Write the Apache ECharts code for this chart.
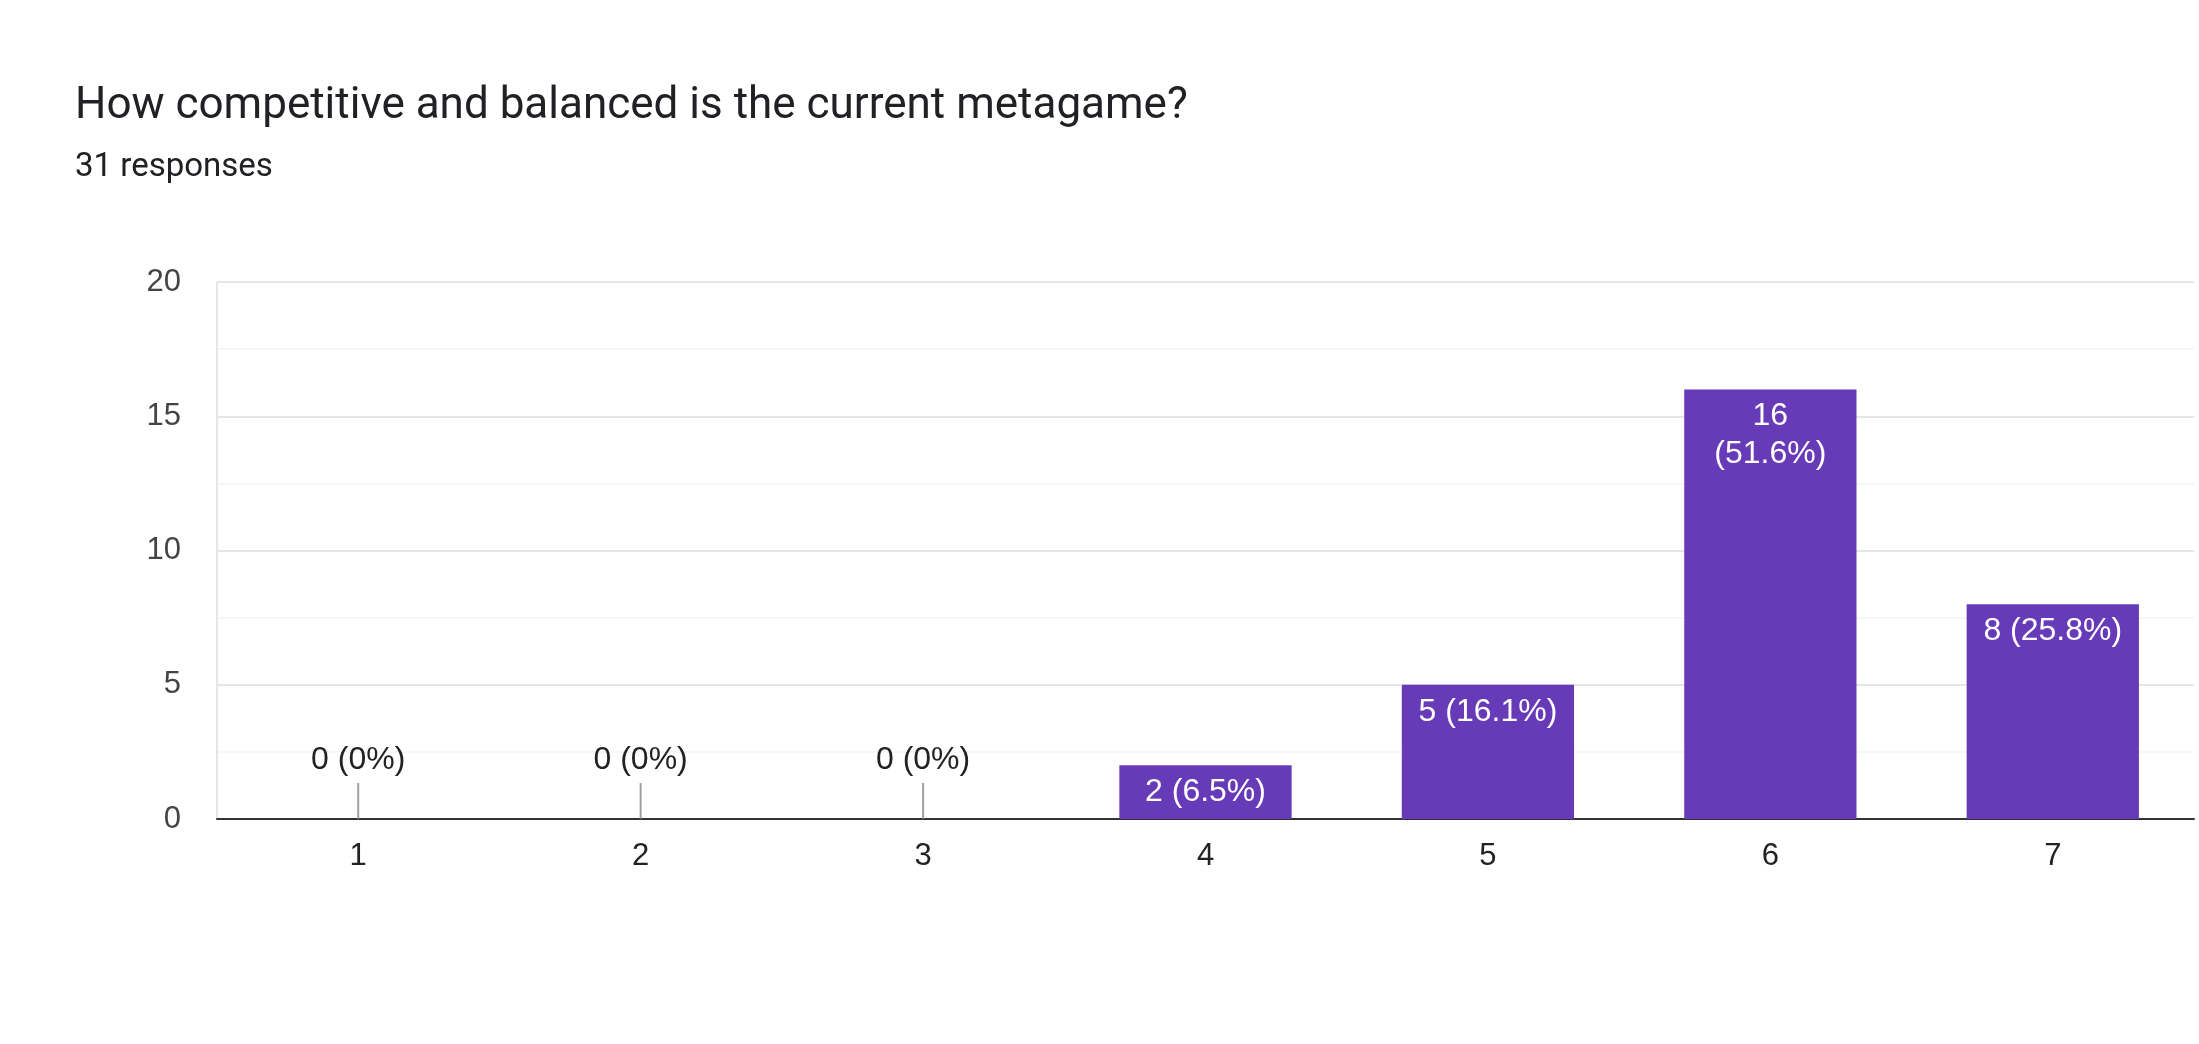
<!DOCTYPE html>
<html>
<head>
<meta charset="utf-8">
<script src="https://cdn.jsdelivr.net/npm/echarts@6/dist/echarts.min.js"></script>
<style>
  html, body { margin: 0; padding: 0; background: #ffffff; }
  #chart { width: 2199px; height: 1044px; }
</style>
</head>
<body>
<div id="chart"></div>
<script>
// 数据
const titleText = 'How competitive and balanced is the current metagame?';
const subtitleText = '31 responses';
const categories = ['1', '2', '3', '4', '5', '6', '7'];
const counts = [0, 0, 0, 2, 5, 16, 8];
const labels = ['0 (0%)', '0 (0%)', '0 (0%)', '2 (6.5%)', '5 (16.1%)', '16\n(51.6%)', '8 (25.8%)'];

const font = 'Roboto, Arial, sans-serif';
const labelFont = '"Liberation Sans", Arial, sans-serif';
const chart = echarts.init(document.getElementById('chart'));

const barData = counts.map((v, i) => ({
    value: v,
    label: v === 0
        ? { position: 'top', color: '#222222', distance: 40 }
        : { position: 'insideTop', color: '#ffffff', distance: 8 }
}));

// 零值的灰色小竖线
const zeroMarks = counts.map(v => v === 0 ? 0 : null);

chart.setOption({
    animation: false,
    title: {
        text: titleText,
        subtext: subtitleText,
        left: 70,
        top: 80,
        itemGap: 22,
        textStyle: { fontSize: 44, fontWeight: 'normal', color: '#202124', fontFamily: font },
        subtextStyle: { fontSize: 33, color: '#202124', fontFamily: font }
    },
    grid: { left: 217, right: 5, top: 282, bottom: 225 },
    xAxis: {
        type: 'category',
        data: categories,
        axisLine: { lineStyle: { color: '#333333', width: 2 } },
        axisTick: { show: false },
        axisLabel: { fontSize: 31, color: '#222222', margin: 22, fontFamily: labelFont }
    },
    yAxis: {
        type: 'value',
        min: 0,
        max: 20,
        interval: 5,
        axisLine: { show: true, lineStyle: { color: '#e6e6e6', width: 2 } },
        axisLabel: { fontSize: 31, color: '#444444', margin: 36, fontFamily: labelFont },
        splitLine: { lineStyle: { color: '#e6e6e6', width: 2 } },
        minorTick: { show: false, splitNumber: 2 },
        minorSplitLine: { show: true, lineStyle: { color: '#f3f3f3', width: 1.5 } }
    },
    series: [{
        type: 'bar',
        data: barData,
        barWidth: '61%',
        itemStyle: { color: '#673ab7' },
        label: {
            show: true,
            fontSize: 32,
            lineHeight: 38,
            fontFamily: labelFont,
            formatter: p => labels[p.dataIndex]
        }
    }, {
        type: 'scatter',
        data: zeroMarks,
        symbol: 'rect',
        symbolSize: [2, 36],
        symbolOffset: [0, '-50%'],
        itemStyle: { color: '#888888' },
        silent: true
    }]
});
</script>
</body>
</html>
